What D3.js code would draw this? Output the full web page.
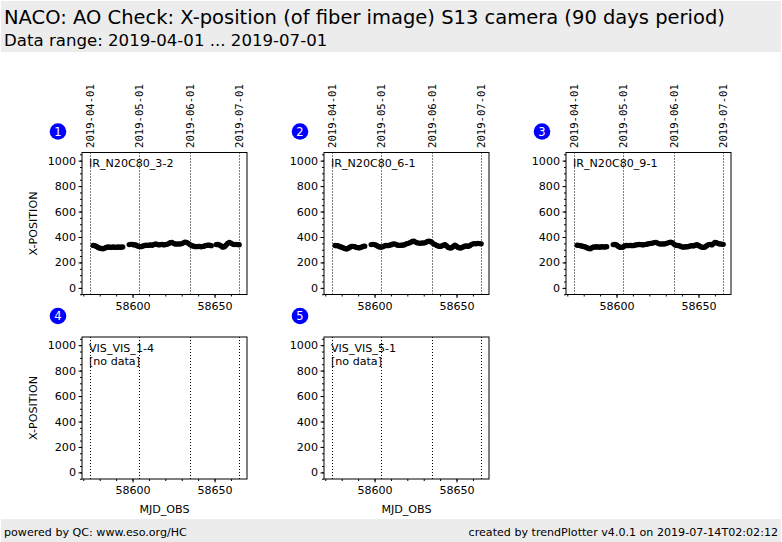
<!DOCTYPE html>
<html>
<head>
<meta charset="utf-8">
<script src="https://cdn.jsdelivr.net/npm/d3@7"></script>
<style>
  html, body { margin: 0; padding: 0; background: #fff; }
  svg { display: block; font-family: "DejaVu Sans", sans-serif; }
</style>
</head>
<body>
<div id="chartDiv"></div>
<script>
// NACO AO check trend plot, X-position of fiber image

// ---- data ----
var titleText = "NACO: AO Check: X-position (of fiber image) S13 camera (90 days period)";
var subtitleText = "Data range: 2019-04-01 ... 2019-07-01";
var footerLeft = "powered by QC: www.eso.org/HC";
var footerRight = "created by trendPlotter v4.0.1 on 2019-07-14T02:02:12";

var panelNames = ["IR_N20C80_3-2", "IR_N20C80_6-1", "IR_N20C80_9-1", "VIS_VIS_1-4", "VIS_VIS_5-1"];

// month boundaries (MJD) and their labels
var dateMjd = [58574, 58604, 58635, 58665];
var dateLabels = ["2019-04-01", "2019-05-01", "2019-06-01", "2019-07-01"];

var xTicks = [58600, 58650];
var yTicks = [0, 200, 400, 600, 800, 1000];

// observation dates
var mjd1 = [58576, 58577, 58578, 58579, 58580, 58581, 58582, 58583, 58584, 58585, 58586, 58587, 58588, 58589,
            58590, 58591, 58592, 58593, 58594, 58598, 58599, 58600, 58601, 58602, 58603, 58604, 58605, 58606,
            58607, 58608, 58609, 58610, 58611, 58612, 58613, 58614, 58615, 58616, 58617, 58618, 58619, 58620,
            58621, 58622, 58623, 58624, 58625, 58626, 58627, 58628, 58629, 58630, 58631, 58632, 58633, 58634,
            58635, 58636, 58637, 58638, 58639, 58640, 58641, 58642, 58643, 58644, 58645, 58646, 58647, 58648,
            58651, 58652, 58653, 58654, 58655, 58656, 58657, 58658, 58659, 58660, 58661, 58662, 58663, 58664, 58665];
var mjd2 = [58576, 58577, 58578, 58579, 58580, 58581, 58582, 58583, 58584, 58585, 58586, 58587, 58588, 58589,
            58590, 58591, 58592, 58593, 58594, 58598, 58599, 58600, 58601, 58602, 58603, 58604, 58605, 58606,
            58607, 58608, 58609, 58610, 58611, 58612, 58613, 58614, 58615, 58616, 58617, 58618, 58619, 58620,
            58621, 58622, 58623, 58624, 58625, 58626, 58627, 58628, 58629, 58630, 58631, 58632, 58633, 58634,
            58635, 58636, 58637, 58638, 58639, 58640, 58641, 58642, 58643, 58644, 58645, 58646, 58647, 58648,
            58649, 58650, 58651, 58652, 58653, 58654, 58655, 58656, 58657, 58658, 58659, 58660, 58661, 58662,
            58663, 58664, 58665];

// X-position values per detector
var xpos1 = [334, 332, 326, 318, 312, 309, 308, 312, 318, 321, 320, 318, 321, 320, 318, 321, 320, 319, 322,
             340, 342, 341, 338, 338, 330, 325, 324, 328, 332, 336, 334, 335, 338, 335, 340, 345, 342, 338,
             340, 342, 338, 340, 342, 348, 355, 358, 350, 345, 344, 346, 344, 348, 354, 360, 358, 350, 340,
             334, 328, 325, 324, 326, 325, 323, 326, 330, 334, 336, 335, 332,
             340, 341, 338, 330, 320, 324, 335, 350, 358, 352, 344, 340, 342, 340, 339];
var xpos2 = [333, 332, 330, 324, 320, 314, 310, 306, 312, 320, 325, 326, 324, 318, 315, 316, 320, 326, 328,
             340, 342, 340, 336, 328, 322, 320, 324, 330, 334, 332, 335, 338, 344, 346, 342, 336, 334, 336,
             335, 338, 344, 348, 352, 358, 364, 366, 360, 354, 352, 350, 354, 352, 356, 362, 366, 364, 358,
             346, 340, 334, 328, 326, 330, 336, 340, 330, 318, 314, 316, 326, 335, 328, 318, 314, 316, 322,
             328, 330, 326, 332, 340, 346, 348, 346, 350, 348, 346];
var xpos3 = [336, 334, 332, 328, 325, 322, 316, 310, 308, 316, 322, 320, 323, 321, 320, 323, 322, 321, 324,
             340, 341, 338, 328, 320, 318, 322, 330, 334, 332, 334, 333, 332, 335, 338, 340, 341, 340, 338,
             340, 342, 345, 348, 350, 352, 356, 358, 352, 346, 344, 346, 345, 348, 352, 356, 360, 356, 344,
             336, 334, 332, 328, 322, 320, 324, 322, 326, 330, 332, 330, 335, 340, 334, 326, 320, 318, 322,
             332, 340, 342, 338, 346, 358, 356, 348, 345, 344, 342];

var panelX = [mjd1, mjd2, mjd2, [], []];
var panelY = [xpos1, xpos2, xpos3, [], []];

// ---- layout ----
var W = 782, H = 542;
var colLeft = [82, 324, 566];
var rowTop = [152.5, 337];
var plotW = 165, plotH = 142;
var FONT = 11.1;

var svg = d3.select("#chartDiv").append("svg")
    .attr("width", W)
    .attr("height", H);

// header band
svg.append("rect").attr("x", 1).attr("y", 1).attr("width", 780).attr("height", 51).attr("fill", "#ececec");
svg.append("text").attr("x", 4).attr("y", 24).attr("font-size", 19.5).attr("fill", "#000").text(titleText);
svg.append("text").attr("x", 4).attr("y", 46).attr("font-size", 16.6).attr("fill", "#000").text(subtitleText);

// footer band
svg.append("rect").attr("x", 1).attr("y", 519).attr("width", 780).attr("height", 23).attr("fill", "#ececec");
svg.append("text").attr("x", 4).attr("y", 535.5).attr("font-size", FONT).text(footerLeft);
svg.append("text").attr("x", 778).attr("y", 535.5).attr("font-size", FONT)
    .attr("text-anchor", "end").text(footerRight);

function drawPanel(i) {
    var col = i % 3, row = Math.floor(i / 3);
    var left = colLeft[col], top = rowTop[row];

    var x = d3.scaleLinear().domain([58569.2, 58669.8]).range([left, left + plotW]);
    var y = d3.scaleLinear().domain([-52, 1064]).range([top + plotH, top]);

    var g = svg.append("g").attr("class", "panel");

    // month boundary lines (dotted)
    g.selectAll("line.month")
        .data(dateMjd)
        .enter()
        .append("line")
        .attr("class", "month")
        .attr("x1", function(d) { return Math.round(x(d)) + 0.5; })
        .attr("x2", function(d) { return Math.round(x(d)) + 0.5; })
        .attr("y1", top)
        .attr("y2", top + plotH)
        .attr("stroke", "#000")
        .attr("stroke-width", 1)
        .attr("stroke-dasharray", "1,2");

    // rotated date labels above top row only
    if (row === 0) {
        g.selectAll("text.date")
            .data(dateMjd)
            .enter()
            .append("text")
            .attr("class", "date")
            .attr("transform", function(d) { return "translate(" + (x(d) + 3.8) + "," + (top - 4.5) + ") rotate(-90)"; })
            .attr("font-family", "'DejaVu Sans Mono', monospace")
            .attr("font-size", 10.6)
            .attr("fill", "#000")
            .text(function(d, k) { return dateLabels[k]; });
    }

    // data points
    var xs = panelX[i], ys = panelY[i];
    g.selectAll("circle")
        .data(ys)
        .enter()
        .append("circle")
        .attr("cx", function(d, k) { return x(xs[k]); })
        .attr("cy", function(d) { return y(d); })
        .attr("r", 2.7)
        .attr("fill", "#000");

    // axes
    var yAxis = d3.axisLeft(y).tickValues(yTicks).tickSize(3.5).tickPadding(2.5).tickFormat(d3.format("d"));
    var yMinor = d3.axisLeft(y).tickValues(d3.range(-50, 1051, 50)).tickSize(2).tickFormat("");
    var xAxis = d3.axisBottom(x).tickValues(xTicks).tickSize(3.5).tickPadding(4).tickFormat(d3.format("d"));
    var xMinor = d3.axisBottom(x).tickValues(d3.range(58570, 58670, 10)).tickSize(2).tickFormat("");

    [yMinor, yAxis].forEach(function(ax) {
        g.append("g").attr("transform", "translate(" + left + ",0)").call(ax);
    });
    [xMinor, xAxis].forEach(function(ax) {
        g.append("g").attr("transform", "translate(0," + (top + plotH) + ")").call(ax);
    });
    g.selectAll(".domain").remove();
    g.selectAll(".tick line").attr("stroke", "#000");
    g.selectAll(".tick text").attr("font-size", FONT).attr("font-family", "'DejaVu Sans', sans-serif").attr("fill", "#000");

    // frame
    g.append("rect")
        .attr("x", left).attr("y", top)
        .attr("width", plotW).attr("height", plotH)
        .attr("fill", "none").attr("stroke", "#000").attr("stroke-width", 1);

    // detector name, and no-data note
    g.append("text").attr("x", left + 7).attr("y", top + 14.5).attr("font-size", FONT).text(panelNames[i]);
    if (ys.length === 0) {
        g.append("text").attr("x", left + 7).attr("y", top + 27.5).attr("font-size", FONT).text("[no data]");
    }

    // number badge
    g.append("circle").attr("cx", left - 24).attr("cy", top - 21).attr("r", 8.3).attr("fill", "#0000ff");
    g.append("text").attr("x", left - 24).attr("y", top - 17).attr("text-anchor", "middle")
        .attr("font-size", 11.5).attr("fill", "#fff").text(i + 1);

    // axis titles
    if (col === 0) {
        g.append("text")
            .attr("transform", "translate(" + 37 + "," + (top + plotH / 2) + ") rotate(-90)")
            .attr("text-anchor", "middle").attr("font-size", FONT).text("X-POSITION");
    }
    if (row === 1) {
        g.append("text").attr("x", left + plotW / 2).attr("y", top + plotH + 34)
            .attr("text-anchor", "middle").attr("font-size", FONT).text("MJD_OBS");
    }
}

for (var i = 0; i < panelNames.length; i++) drawPanel(i);
</script>
</body>
</html>
